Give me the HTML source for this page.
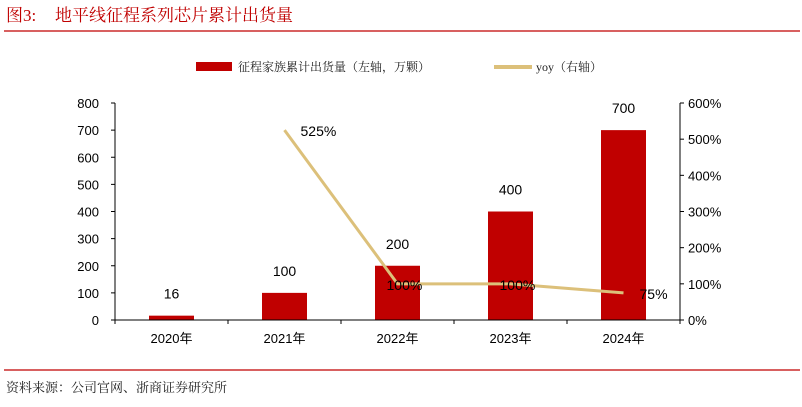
<!DOCTYPE html>
<html><head><meta charset="utf-8"><style>
body{margin:0;background:#fff;}
svg text{font-family:"Liberation Sans","Noto Sans CJK SC",sans-serif;}
svg text.serif{font-family:"Liberation Serif","Noto Serif CJK SC",serif;}
</style></head><body>
<svg id="c" width="802" height="402" xmlns="http://www.w3.org/2000/svg">
<text class="serif" x="6" y="21" font-size="17" fill="#c00000">图3:<tspan x="55">地平线征程系列芯片累计出货量</tspan></text>
<line x1="4" y1="31" x2="800" y2="31" stroke="#c00000" stroke-width="1.2"/>
<g>
<rect x="196" y="62" width="36" height="9" fill="#c00000"/>
<text class="serif" x="238" y="71" font-size="12" fill="#222">征程家族累计出货量（左轴，万颗）</text>
<line x1="494" y1="67" x2="532" y2="67" stroke="#dcc07a" stroke-width="4"/>
<text class="serif" x="536" y="71" font-size="12" fill="#222">yoy（右轴）</text>
</g>
<g id="plot"></g>
<line x1="4" y1="370" x2="800" y2="370" stroke="#c00000" stroke-width="1.2"/>
<text class="serif" x="6" y="392" font-size="13" fill="#222">资料来源：公司官网、浙商证券研究所</text>
</svg>
<script>
const categories=["2020年","2021年","2022年","2023年","2024年"];
const shipments=[16,100,200,400,700];
const yoy=[null,525,100,100,75];
const leftTicks=[0,100,200,300,400,500,600,700,800];
const rightTicks=[0,100,200,300,400,500,600];
const NS="http://www.w3.org/2000/svg";
const g=document.getElementById('plot');
const X0=115,X1=680,Y0=320,Y1=103;
const band=(X1-X0)/categories.length;
const xc=i=>X0+band*(i+0.5);
const yl=v=>Y0-(v/800)*(Y0-Y1);
const yr=v=>Y0-(v/600)*(Y0-Y1);
const labelDx=[0,16,-11,-11,16];
function mk(t,a){const e=document.createElementNS(NS,t);for(const k in a)e.setAttribute(k,a[k]);g.appendChild(e);return e;}
shipments.forEach((v,i)=>{
 const r=mk('rect',{x:xc(i)-22.5,y:yl(v),width:45,height:Y0-yl(v),fill:'#c00000'});
 
 
 const t=mk('text',{x:xc(i),y:yl(v)-17,'font-size':14,'text-anchor':'middle',fill:'#000'});t.textContent=v;
 
 
});
let pts=[];yoy.forEach((v,i)=>{if(v!==null)pts.push(xc(i)+','+yr(v));});
const pl=mk('polyline',{points:pts.join(' '),fill:'none',stroke:'#dcc07a','stroke-width':3});


yoy.forEach((v,i)=>{if(v===null)return;
 const t=mk('text',{x:xc(i)+labelDx[i],y:yr(v)+6,'font-size':14,fill:'#000'});t.textContent=v+'%';
 
 
});
const ax=mk('path',{d:`M${X0},${Y1}V${Y0}H${X1}V${Y1}`,fill:'none',stroke:'#000','stroke-width':1});


leftTicks.forEach(v=>{mk('line',{x1:X0-4,x2:X0,y1:yl(v),y2:yl(v),stroke:'#000'});
 const t=mk('text',{x:X0-16,y:yl(v)+5,'font-size':13,'text-anchor':'end'});t.textContent=v;
 
 });
rightTicks.forEach(v=>{mk('line',{x1:X1,x2:X1+4,y1:yr(v),y2:yr(v),stroke:'#000'});
 const t=mk('text',{x:X1+8,y:yr(v)+5,'font-size':13});t.textContent=v+'%';
 
 });
for(let i=0;i<=categories.length;i++)mk('line',{x1:X0+band*i,x2:X0+band*i,y1:Y0,y2:Y0+4,stroke:'#000'});
categories.forEach((c,i)=>{const t=mk('text',{x:xc(i),y:343,'font-size':13,'text-anchor':'middle'});t.textContent=c;
 
 });
</script>
</body></html>
